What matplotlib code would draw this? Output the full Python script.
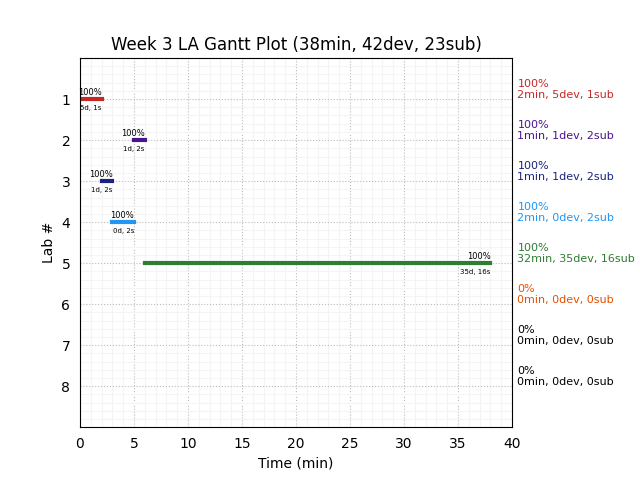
import matplotlib
matplotlib.use("Agg")
import matplotlib.pyplot as plt
from matplotlib.ticker import AutoMinorLocator

# lab data
labs = [1, 2, 3, 4, 5, 6, 7, 8]
starts = [0, 5, 2, 3, 6]
ends = [2, 6, 3, 5, 38]
pcts = [100, 100, 100, 100, 100, 0, 0, 0]
mins = [2, 1, 1, 2, 32, 0, 0, 0]
devs = [5, 1, 1, 0, 35, 0, 0, 0]
subs = [1, 2, 2, 2, 16, 0, 0, 0]
colors = ['#c62828', '#4a148c', '#1a237e', '#2196f3', '#2e7d32',
          '#e65100', 'black', 'black']

fig = plt.figure(figsize=(6.4, 4.8), dpi=100)
ax = fig.add_axes([0.125, 0.110, 0.675, 0.769])

for i in range(len(starts)):
    ax.plot([starts[i], ends[i]], [labs[i], labs[i]], color=colors[i],
            linewidth=3, solid_capstyle='projecting')
    ax.text(ends[i], labs[i] - 0.06, str(pcts[i]) + '%', ha='right', va='bottom', fontsize=6)
    ax.text(ends[i], labs[i] + 0.14, str(devs[i]) + 'd, ' + str(subs[i]) + 's',
            ha='right', va='top', fontsize=5)

for i in range(len(labs)):
    ax.text(40.5, labs[i] + 0.03,
            str(pcts[i]) + '%\n' + str(mins[i]) + 'min, ' + str(devs[i]) + 'dev, ' + str(subs[i]) + 'sub',
            color=colors[i], ha='left', va='bottom', fontsize=8, clip_on=False)

ax.set_xlim(0, 40)
ax.set_ylim(9, 0)
ax.set_yticks(labs)
ax.xaxis.set_minor_locator(AutoMinorLocator())
ax.yaxis.set_minor_locator(AutoMinorLocator())
ax.grid(which='major', linestyle=':', color='#bbbbbb', linewidth=0.8)
ax.grid(which='minor', linestyle='-', color='#f4f4f4', linewidth=0.8)
ax.tick_params(which='both', length=0, pad=7, labelsize=10)
ax.set_axisbelow(True)

ax.set_xlabel('Time (min)')
ax.set_ylabel('Lab #')
ax.set_title('Week 3 LA Gantt Plot (38min, 42dev, 23sub)', fontsize=12)

fig.savefig('out.png', dpi=100)
